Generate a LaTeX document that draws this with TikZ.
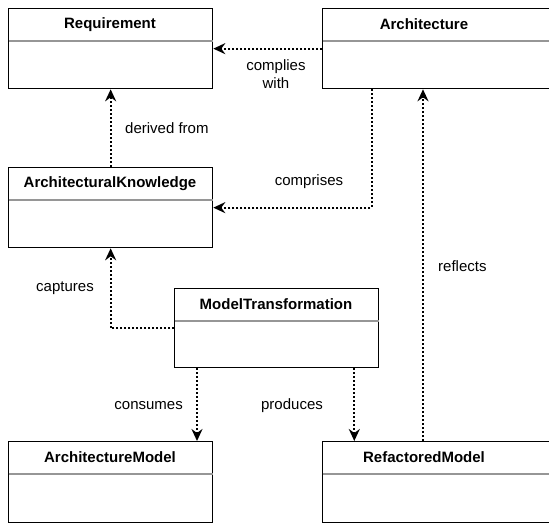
\documentclass[tikz,border=0pt]{standalone}
\usepackage{fontspec}
\setmainfont{Liberation Sans}
\usepackage{tikz}
\usetikzlibrary{arrows.meta}
\definecolor{divgray}{RGB}{150, 150, 150}

\begin{document}
\begin{tikzpicture}[x=1pt, y=-1pt, >={Stealth[length=12pt, width=11pt, inset=4pt]}]
        % Styles
        \tikzset{classbox/.style={rectangle, draw=black, line width=1.3pt, fill=white, minimum width=204pt, minimum height=80pt, inner sep=0pt, anchor=north west}}
        \tikzset{classtitle/.style={font=\fontsize{15}{18}\selectfont\bfseries, inner sep=0pt}}
        \tikzset{divider/.style={draw=divgray, line width=1.5pt}}
        \tikzset{rel/.style={->, line width=2pt, dash pattern=on 2pt off 2pt}}
        \tikzset{lbl/.style={font=\fontsize{15}{18}\selectfont, align=center, inner sep=0pt}}

        \useasboundingbox (0,0) rectangle (549,523);

        % Classes
        \node[classbox] (req) at (8,8) {};
        \node[classbox, minimum width=238pt] (arch) at (322,8) {};
        \node[classbox] (ak) at (8,167) {};
        \node[classbox, minimum height=79pt] (mt) at (174,288) {};
        \node[classbox, minimum height=81pt] (am) at (8,441) {};
        \node[classbox, minimum width=238pt, minimum height=81pt] (rm) at (322,441) {};

        % Titles and dividers
        \foreach \c/\t in {req/Requirement, arch/Architecture, ak/ArchitecturalKnowledge, mt/ModelTransformation, am/ArchitectureModel, rm/RefactoredModel} {
            \node[classtitle] (\c-title) at ([xshift=102pt, yshift=-16.5pt]\c.north west) {\t};
            \draw[divider] ([yshift=-33pt, xshift=0.7pt]\c.north west) -- ([yshift=-33pt, xshift=-0.7pt]\c.north east);
        }

        % Anchor points
        \coordinate (arch-down) at ([xshift=50pt]arch.south west);
        \coordinate (arch-in) at ([xshift=101pt]arch.south west);
        \coordinate (rm-out) at ([xshift=101pt]rm.north west);
        \coordinate (mt-cons) at ([xshift=23pt]mt.south west);
        \coordinate (mt-prod) at ([xshift=-25pt]mt.south east);

        % Connections
        \draw[rel] (arch.west) -- (req.east);
        \draw[rel] (ak.north) -- (req.south);
        \draw[rel] (arch-down) |- (ak.east);
        \draw[rel] (rm-out) -- (arch-in);
        \draw[rel] (mt.west) -| (ak.south);
        \draw[rel] (mt-cons) -- (mt-cons |- am.north);
        \draw[rel] (mt-prod) -- (mt-prod |- rm.north);

        % Labels
        \node[lbl] (l-complies) at (276,74) {complies\\with};
        \node[lbl, anchor=west] (l-derived) at (125,128) {derived from};
        \node[lbl] (l-comprises) at (309,182) {comprises};
        \node[lbl, anchor=west] (l-reflects) at (438,266) {reflects};
        \node[lbl] (l-captures) at (65,288) {captures};
        \node[lbl, anchor=east] (l-consumes) at (183,406) {consumes};
        \node[lbl] (l-produces) at (292,406) {produces};
    \end{tikzpicture}
\end{document}
